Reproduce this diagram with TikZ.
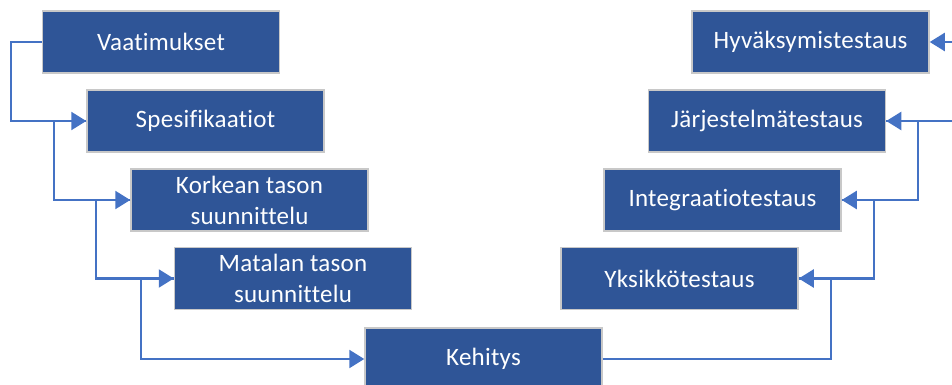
\documentclass[tikz,border=0pt]{standalone}
\usepackage{fontspec}
\setmainfont{Carlito}[Ligatures=NoCommon,LetterSpace=1]
\usetikzlibrary{calc,arrows.meta}
\definecolor{boxblue}{HTML}{2F5597}
\definecolor{lineblue}{HTML}{4472C4}
\definecolor{boxedge}{HTML}{C8C8C8}

\begin{document}
\begin{tikzpicture}[x=1pt,y=-1pt,>={Triangle[length=15pt,width=18pt]},
phase/.style={draw=boxedge,line width=1.5pt,fill=boxblue,text=white,
minimum width=237pt,minimum height=62pt,inner sep=0pt,align=center,
font=\fontsize{25}{31}\selectfont},
link/.style={->,draw=lineblue,line width=2.3pt}]
\useasboundingbox (0,0) rectangle (952,385);
% left branch
\node[phase] (vaat) at (161,42) {Vaatimukset};
\node[phase] (spes) at (205.5,121) {Spesifikaatiot};
\node[phase] (kork) at (249.5,200) {Korkean tason\\suunnittelu};
\node[phase] (mata) at (293,278.5) {Matalan tason\\suunnittelu};
%
\node[phase] (kehi) at (483.5,359) {Kehitys};
% right branch
\node[phase] (yksi) at (679.5,278.5) {Yksikkötestaus};
\node[phase] (inte) at (722.5,200) {Integraatiotestaus};
\node[phase] (jarj) at (767,121) {Järjestelmätestaus};
\node[phase] (hyva) at (810.5,42) {Hyväksymistestaus};

\draw[link] (vaat.west) -- ++(-31,0) |- (spes.west);
\draw[link] (spes.west) -- ++(-32,0) |- (kork.west);
\draw[link] (kork.west) -- ++(-34,0) |- (mata.west);
\draw[link] (mata.west) -- ++(-33,0) |- (kehi.west);
\draw[link] (kehi.east) -| ($(yksi.east)+(32,0)$) -- (yksi.east);
\draw[link] (yksi.east) -| ($(inte.east)+(32,0)$) -- (inte.east);
\draw[link] (inte.east) -| ($(jarj.east)+(32,0)$) -- (jarj.east);
\draw[link] (jarj.east) -| ($(hyva.east)+(34,0)$) -- (hyva.east);
\end{tikzpicture}
\end{document}
